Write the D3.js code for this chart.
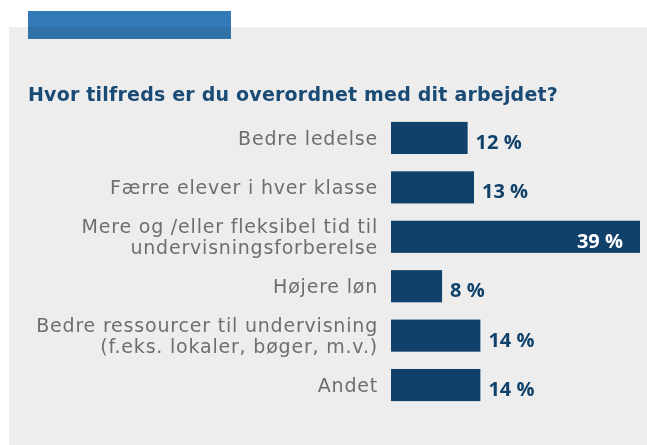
<!DOCTYPE html>
<html>
<head>
<meta charset="utf-8">
<script src="https://cdn.jsdelivr.net/npm/d3@7"></script>
<style>
  body { margin: 0; background: #fff; }
  svg { display: block; font-family: "DejaVu Sans", sans-serif; }
</style>
</head>
<body>
<div id="chart"></div>
<script>
// Data
const title = "Hvor tilfreds er du overordnet med dit arbejdet?";
const categories = [
    ["Bedre ledelse"],
    ["Færre elever i hver klasse"],
    ["Mere og /eller fleksibel tid til", "undervisningsforberelse"],
    ["Højere løn"],
    ["Bedre ressourcer til undervisning", "(f.eks. lokaler, bøger, m.v.)"],
    ["Andet"]
];
const values = [12, 13, 39, 8, 14, 14];

const W = 647, H = 445;
const barColor = "#10416a";

const svg = d3.select("#chart").append("svg")
    .attr("width", W)
    .attr("height", H);

// grey panel + blue tab
svg.append("rect")
    .attr("x", 9).attr("y", 27)
    .attr("width", W - 9).attr("height", H - 27)
    .attr("fill", "#ededed");

svg.append("rect")
    .attr("x", 28).attr("y", 11)
    .attr("width", 203).attr("height", 28)
    .attr("fill", "#3379b5")
    .style("mix-blend-mode", "multiply");

svg.append("text")
    .attr("x", 28).attr("y", 101)
    .attr("fill", "#1a4b75")
    .attr("font-weight", "bold")
    .attr("font-size", 19)
    .attr("letter-spacing", 0.2)
    .text(title);

const idx = d3.range(values.length);

const y = d3.scaleBand()
    .domain(idx)
    .range([113, 410])
    .paddingInner(0.35)
    .paddingOuter(0.18);

const x = d3.scaleLinear()
    .domain([0, 39])
    .range([391, 640]);

const rows = svg.selectAll(".row")
    .data(idx)
    .enter()
    .append("g")
    .attr("class", "row");

rows.append("rect")
    .attr("x", x(0))
    .attr("y", i => y(i))
    .attr("width", i => x(values[i]) - x(0))
    .attr("height", y.bandwidth())
    .attr("fill", barColor);

// category labels
rows.append("text")
    .attr("text-anchor", "end")
    .attr("fill", "#6e6e6e")
    .attr("font-size", 19)
    .attr("letter-spacing", 0.8)
    .each(function(i) {
        const lines = categories[i];
        const cy = y(i) + y.bandwidth() / 2;
        const lh = 21;
        d3.select(this).selectAll("tspan")
            .data(lines)
            .enter()
            .append("tspan")
            .attr("x", 378)
            .attr("y", (d, k) => cy + 7 + (k - (lines.length - 1) / 2) * lh)
            .text(d => d);
    });

// value labels
rows.append("text")
    .attr("font-family", "'Open Sans', sans-serif")
    .attr("font-weight", "bold")
    .attr("font-size", 20)
    .attr("y", i => y(i) + y.bandwidth() / 2 + 11)
    .attr("x", i => values[i] > 30 ? x(values[i]) - 17 : x(values[i]) + 8)
    .attr("text-anchor", i => values[i] > 30 ? "end" : "start")
    .attr("fill", i => values[i] > 30 ? "#fff" : barColor)
    .text(i => values[i] + " %");
</script>
</body>
</html>
